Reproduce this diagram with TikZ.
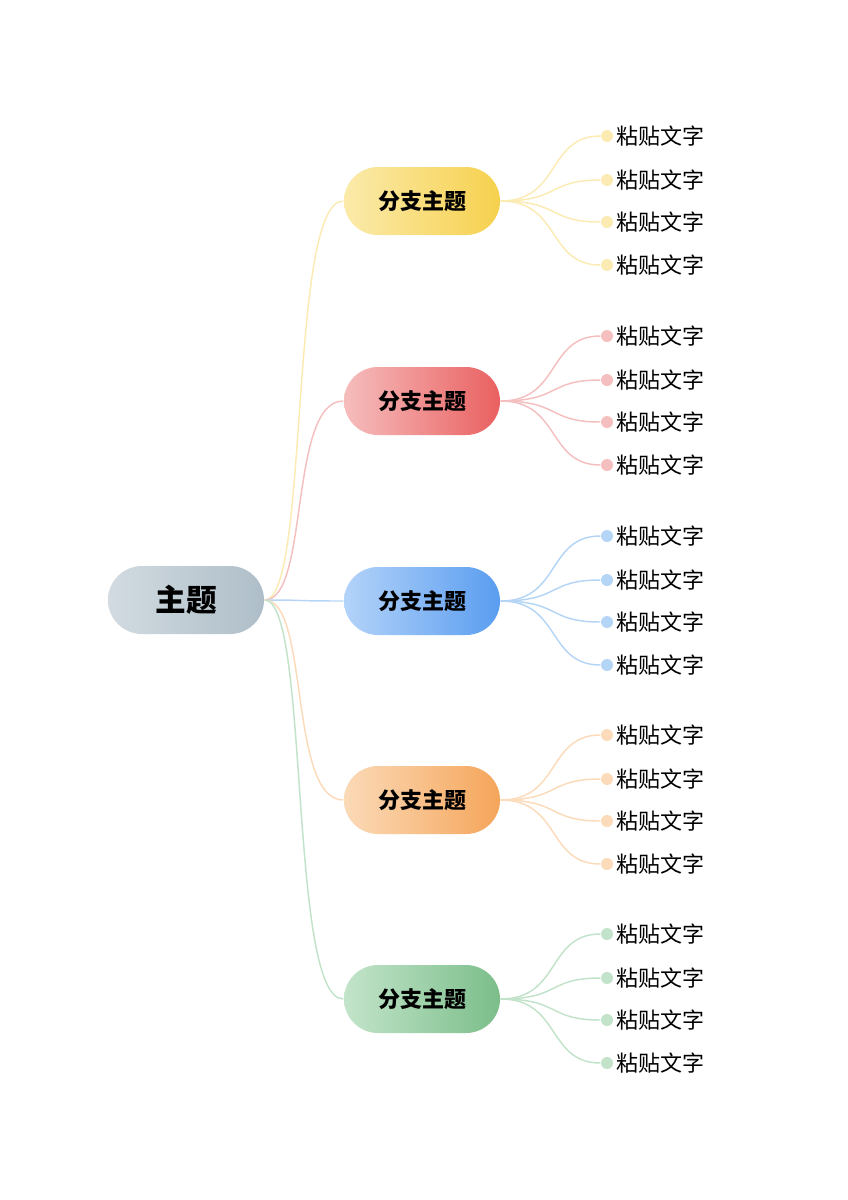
\documentclass[tikz,border=0pt]{standalone}
\usepackage{fontspec}
\newfontfamily\cjk{Noto Sans CJK SC}
\usetikzlibrary{positioning}
\definecolor{rootA}{HTML}{D2DBE1}\definecolor{rootB}{HTML}{AEBEC8}
\definecolor{yA}{HTML}{FBEAAA}\definecolor{yB}{HTML}{F6D14E}\definecolor{yL}{HTML}{FBEBB3}
\definecolor{rA}{HTML}{F6BDBD}\definecolor{rB}{HTML}{EA6060}\definecolor{rL}{HTML}{F5BFBF}
\definecolor{bA}{HTML}{B3D3F9}\definecolor{bB}{HTML}{5A9DF0}\definecolor{bL}{HTML}{B5D5F7}
\definecolor{oA}{HTML}{FBDAB8}\definecolor{oB}{HTML}{F5A55A}\definecolor{oL}{HTML}{FBDBB9}
\definecolor{gA}{HTML}{C3E4CA}\definecolor{gB}{HTML}{7BBE8A}\definecolor{gL}{HTML}{C2E3CA}
\begin{document}
\begin{tikzpicture}[x = 0.75pt, y = -0.75pt, % pixel grid
                font = \cjk, line width = 1.1pt
            ]
            \tikzset{pill/.style = {rounded corners = 25.5pt, minimum width = 117pt,
                minimum height = 51pt, inner sep = 0pt, shading angle = 70},
                dot/.style = {circle, inner sep = 0pt, minimum size = 9pt},
                leaf/.style = {anchor = west, inner sep = 0pt, font = \cjk\fontsize{16.5}{18}\selectfont}}

            \useasboundingbox (0,0) rectangle (848,1200);

            \node[pill, minimum width = 117pt, left color = rootA, right color = rootB,
            font = \cjk\bfseries\fontsize{23}{25}\selectfont] (root) at (186,600) {主题};

            \foreach \i/\y/\ca/\cb/\cl in {1/201/yA/yB/yL, 2/401/rA/rB/rL, 3/601/bA/bB/bL,
                4/800/oA/oB/oL, 5/999/gA/gB/gL} {
                \node[pill, left color = \ca, right color = \cb,
                font = \cjk\bfseries\fontsize{16.5}{18}\selectfont] (b\i) at (422,\y) {分支主题};
                \draw[\cl] (root.east) .. controls +(45,0) and +(-55,0) .. (b\i.west);
                \foreach \j/\d in {1/-65, 2/-21, 3/21, 4/64} {
                    \node[dot, fill = \cl] (d\i\j) at (607,\y+\d) {};
                    \node[leaf] (t\i\j) at (616,\y+\d) {粘贴文字};
                    \draw[\cl] (b\i.east) .. controls +(60,0) and +(-60,0) .. (d\i\j);
                }
            }
        \end{tikzpicture}
\end{document}
